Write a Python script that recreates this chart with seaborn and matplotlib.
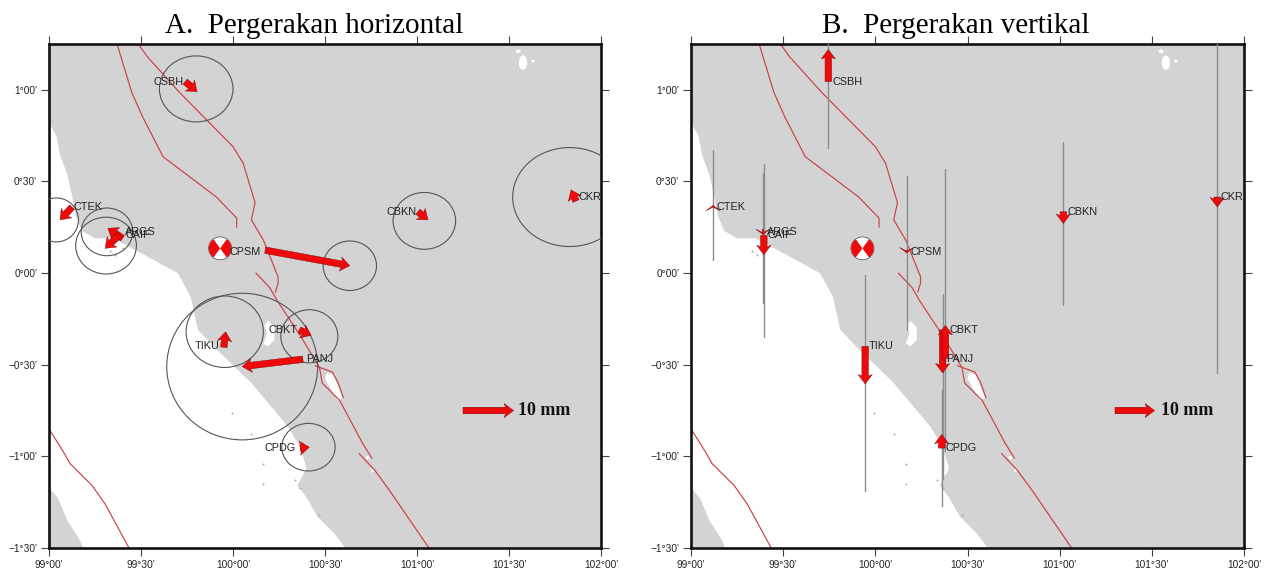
import matplotlib

matplotlib.use("Agg")
import matplotlib.pyplot as plt
import seaborn as sns
from matplotlib.patches import Ellipse, Wedge

# stasiun GPS, posisi dalam derajat
stations = ["CSBH", "CTEK", "ARGS", "CAIF", "CPSM", "CBKN", "CKR", "TIKU", "PANJ", "CBKT", "CPDG"]
label_lat = [1.045, 0.36, 0.225, 0.21, 0.115, 0.335, 0.415, -0.40, -0.47, -0.31, -0.955]

# pergerakan horizontal: ekor dan kepala panah
h_tail_lon = [99.74, 99.125, 99.40, 99.385, 100.175, 101.005, 101.864, 99.95, 100.38, 100.36, 100.365]
h_tail_lat = [1.045, 0.36, 0.19, 0.21, 0.125, 0.335, 0.393, -0.405, -0.47, -0.31, -0.955]
h_head_lon = [99.805, 99.06, 99.32, 99.305, 100.635, 101.06, 101.837, 99.96, 100.05, 100.425, 100.415]
h_head_lat = [0.99, 0.29, 0.245, 0.135, 0.04, 0.29, 0.454, -0.32, -0.51, -0.34, -0.95]

# elips galat
ell_lon = [99.80, 99.04, 99.315, 99.31, 100.635, 101.04, 101.83, 99.955, 100.05, 100.415, 100.41]
ell_lat = [1.005, 0.29, 0.225, 0.15, 0.04, 0.285, 0.415, -0.32, -0.51, -0.345, -0.95]
ell_e = [0.20, 0.12, 0.14, 0.165, 0.145, 0.17, 0.31, 0.21, 0.41, 0.155, 0.145]
ell_n = [0.18, 0.12, 0.13, 0.155, 0.135, 0.155, 0.27, 0.195, 0.40, 0.145, 0.13]

# label panel A
h_label_lon = [99.73, 99.135, 99.415, 99.415, 100.15, 101.0, 101.88, 99.925, 100.40, 100.35, 100.34]
h_label_ha = ["right", "left", "left", "left", "right", "right", "left", "right", "left", "right", "right"]

# pergerakan vertikal
v_lon = [99.745, 99.12, 99.39, 99.395, 100.17, 101.02, 101.855, 99.945, 100.365, 100.38, 100.36]
v_tail = [1.045, 0.36, 0.24, 0.205, 0.125, 0.335, 0.415, -0.40, -0.31, -0.465, -0.955]
v_head = [1.22, 0.37, 0.21, 0.10, 0.11, 0.27, 0.36, -0.605, -0.545, -0.285, -0.88]
v_err_top = [1.25, 0.67, 0.545, 0.595, 0.53, 0.715, 1.25, -0.01, -0.115, 0.57, -0.64]
v_err_bot = [0.68, 0.07, -0.165, -0.35, -0.31, -0.175, -0.545, -1.19, -1.125, -0.97, -1.27]

# garis pantai Sumatra
coast_lon = [99.00, 99.04, 99.06, 99.10, 99.125, 99.145, 99.18, 99.25, 99.35, 99.47, 99.70, 99.77, 99.81,
             99.90, 100.10, 100.30, 100.365, 100.40, 100.35, 100.40, 100.46, 100.55, 100.61,
             102.0, 102.0, 99.0]
coast_lat = [0.82, 0.75, 0.645, 0.535, 0.425, 0.315, 0.23, 0.19, 0.19, 0.125, 0.0, -0.13, -0.31,
             -0.405, -0.60, -0.84, -0.95, -1.065, -1.16, -1.225, -1.33, -1.42, -1.5,
             -1.5, 1.25, 1.25]
island_lon = [99.0, 99.05, 99.10, 99.17, 99.185, 99.0]
island_lat = [-1.17, -1.23, -1.35, -1.46, -1.5, -1.5]

# danau
lake1_lon = [100.19, 100.225, 100.225, 100.19, 100.165, 100.185, 100.17]
lake1_lat = [-0.26, -0.295, -0.365, -0.40, -0.385, -0.33, -0.285]
lake2_lon = [100.51, 100.545, 100.595, 100.57, 100.53, 100.50]
lake2_lat = [-0.545, -0.555, -0.68, -0.695, -0.63, -0.575]
lake3_lon = [100.73, 100.755]
lake3_lat = [-1.005, -1.075]
isle_lon = [101.55, 101.576, 101.63]
isle_lat = [1.21, 1.148, 1.157]
isle_w = [0.025, 0.045, 0.02]
isle_h = [0.02, 0.08, 0.015]

# pulau kecil di lepas pantai
dot_lon = [99.995, 100.10, 100.165, 100.165, 100.47, 100.335, 100.365, 99.40, 99.36, 99.33]
dot_lat = [-0.765, -0.88, -1.04, -1.15, -1.32, -1.13, -1.17, 0.135, 0.10, 0.12]

# sesar
faults = [
    ([99.37, 99.45, 99.51, 99.62, 99.91, 100.02, 100.02],
     [1.25, 0.985, 0.85, 0.635, 0.415, 0.30, 0.25]),
    ([99.485, 99.535, 99.71, 100.0, 100.055, 100.12, 100.10, 100.165, 100.245, 100.245, 100.23],
     [1.25, 1.18, 0.985, 0.69, 0.60, 0.385, 0.29, 0.18, -0.02, -0.055, -0.105]),
    ([100.125, 100.20, 100.24, 100.365, 100.47, 100.485, 100.58, 100.705, 100.755],
     [0.0, -0.08, -0.15, -0.34, -0.515, -0.60, -0.695, -0.93, -1.01]),
    ([100.445, 100.54, 100.57, 100.60],
     [-0.505, -0.54, -0.595, -0.68]),
    ([100.685, 100.77, 100.85, 101.065],
     [-0.985, -1.075, -1.185, -1.5]),
    ([99.0, 99.075, 99.115, 99.235, 99.305, 99.435],
     [-0.85, -0.97, -1.04, -1.16, -1.26, -1.5]),
]

lon_ticks = [99.0, 99.5, 100.0, 100.5, 101.0, 101.5, 102.0]
lon_labels = ["99°00'", "99°30'", "100°00'", "100°30'", "101°00'", "101°30'", "102°00'"]
lat_ticks = [-1.5, -1.0, -0.5, 0.0, 0.5, 1.0]
lat_labels = ["\u22121°30'", "\u22121°00'", "\u22120°30'", "0°00'", "0°30'", "1°00'"]

epi_lon, epi_lat = 99.93, 0.135

RED = "#ee0a0a"
GREY = "#d3d3d3"
FAULT = "#cc3f48"

sns.set_theme(style="white")
plt.rcParams["font.family"] = ["Liberation Sans", "DejaVu Sans"]


def draw_arrow(ax, x0, y0, x1, y1):
    # panah sangat pendek tampil sebagai sayap tipis
    size = ((x1 - x0) ** 2 + (y1 - y0) ** 2) ** 0.5
    tiny = size < 0.04
    ax.arrow(x0, y0, x1 - x0, y1 - y0, width=0.006 if tiny else 0.036, head_width=0.078,
             head_length=0.03 if tiny else 0.052, overhang=0.6 if tiny else 0.15,
             length_includes_head=True, fc=RED, ec="#600000", lw=0.25, zorder=5)


def base_map(ax):
    ax.set_facecolor("white")
    ax.fill(coast_lon, coast_lat, color=GREY, lw=0, zorder=1)
    ax.fill(island_lon, island_lat, color=GREY, lw=0, zorder=1)
    ax.fill(lake1_lon, lake1_lat, color="white", lw=0, zorder=1.1)
    ax.fill(lake2_lon, lake2_lat, color="white", lw=0, zorder=1.1)
    ax.scatter(lake3_lon, lake3_lat, s=6, color="white", lw=0, zorder=1.1)
    for x, y, w, h in zip(isle_lon, isle_lat, isle_w, isle_h):
        ax.add_patch(Ellipse((x, y), w, h, color="white", lw=0, zorder=1.1))
    sns.scatterplot(x=dot_lon, y=dot_lat, s=2, color="#aaaaaa", linewidth=0, ax=ax, zorder=1.2)
    for fx, fy in faults:
        sns.lineplot(x=fx, y=fy, sort=False, estimator=None, color=FAULT, lw=0.85, ax=ax, zorder=2)

    # bola fokus gempa
    ax.add_patch(Ellipse((epi_lon, epi_lat), 0.125, 0.125, fc="white", ec="#444444", lw=0.5, zorder=4))
    ax.add_patch(Wedge((epi_lon, epi_lat), 0.061, -54, 54, fc=RED, lw=0, zorder=4.1))
    ax.add_patch(Wedge((epi_lon, epi_lat), 0.061, 126, 234, fc=RED, lw=0, zorder=4.1))

    ax.set_xlim(99, 102)
    ax.set_ylim(-1.5, 1.25)
    ax.set_xticks(lon_ticks, lon_labels)
    ax.set_yticks(lat_ticks, lat_labels)
    ax.tick_params(top=True, right=True, bottom=True, left=True, length=5.5, width=0.8,
                   color="#444444", labelsize=7.3, labelcolor="#222222", pad=3)
    for s in ax.spines.values():
        s.set_visible(True)
        s.set_linewidth(1.9)
        s.set_color("#111111")


fig = plt.figure(figsize=(12.65, 5.71), dpi=100)
ax_a = fig.add_axes([49 / 1265, 23 / 571, 552 / 1265, 504 / 571])
ax_b = fig.add_axes([691 / 1265, 23 / 571, 553 / 1265, 504 / 571])

# A. horizontal
base_map(ax_a)
for i, name in enumerate(stations):
    ax_a.add_patch(Ellipse((ell_lon[i], ell_lat[i]), 2 * ell_e[i], 2 * ell_n[i], fill=False,
                           ec="#555555", lw=0.8, zorder=3))
    draw_arrow(ax_a, h_tail_lon[i], h_tail_lat[i], h_head_lon[i], h_head_lat[i])
    ax_a.text(h_label_lon[i], label_lat[i], name, ha=h_label_ha[i], va="center",
              fontsize=7.8, color="#222222", zorder=6)
draw_arrow(ax_a, 101.25, -0.75, 101.525, -0.75)
ax_a.text(101.55, -0.75, "10 mm", family="Liberation Serif", fontweight="bold", fontsize=13,
          color="#111111", va="center", zorder=6)

# B. vertikal
base_map(ax_b)
for i, name in enumerate(stations):
    sns.lineplot(x=[v_lon[i], v_lon[i]], y=[v_err_bot[i], v_err_top[i]], sort=False, estimator=None,
                 color="#8c8c8c", lw=1.0, ax=ax_b, zorder=3)
    draw_arrow(ax_b, v_lon[i], v_tail[i], v_lon[i], v_head[i])
    ax_b.text(v_lon[i] + 0.02, label_lat[i], name, ha="left", va="center",
              fontsize=7.8, color="#222222", zorder=6)
draw_arrow(ax_b, 101.30, -0.75, 101.515, -0.75)
ax_b.text(101.55, -0.75, "10 mm", family="Liberation Serif", fontweight="bold", fontsize=13,
          color="#111111", va="center", zorder=6)

fig.text(314 / 1265, 538 / 571, "A.  Pergerakan horizontal", family="Liberation Serif", fontsize=21,
         color="black", ha="center", va="baseline")
fig.text(956 / 1265, 538 / 571, "B.  Pergerakan vertikal", family="Liberation Serif", fontsize=21,
         color="black", ha="center", va="baseline")

fig.savefig("out.png", dpi=100)
plt.close(fig)
